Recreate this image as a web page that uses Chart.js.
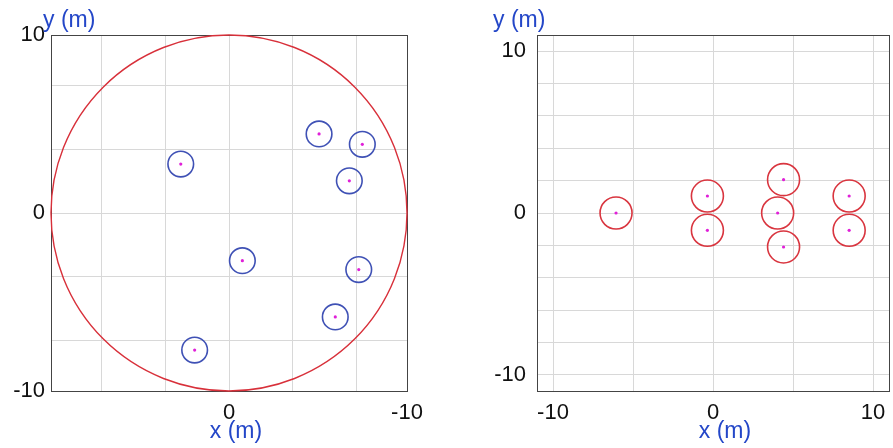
<!DOCTYPE html>
<html>
<head>
<meta charset="utf-8">
<script src="https://cdn.jsdelivr.net/npm/chart.js@4.4.1/dist/chart.umd.min.js"></script>
<style>
  html, body { margin: 0; padding: 0; background: #ffffff; }
  #wrap { position: relative; width: 893px; height: 448px; overflow: hidden; background: #fff; }
  canvas { position: absolute; top: 0; }
  #c1 { left: 0px; }
  #c2 { left: 447px; }
</style>
</head>
<body>
<div id="wrap">
  <canvas id="c1" width="446" height="448"></canvas>
  <canvas id="c2" width="446" height="448"></canvas>
</div>
<script>
// ---------- Data ----------
// Left panel: room boundary circle and small blue sources
const leftBoundaryX = [0];
const leftBoundaryY = [0];
const leftBoundaryRadius = 10;           // m
const leftSourceX = [2.71, -5.06, -7.49, -6.76, -0.75, -7.29, -5.97, 1.93];
const leftSourceY = [2.75, 4.44, 3.86, 1.81, -2.68, -3.18, -5.84, -7.70];
const leftSourceRadius = 0.72;           // m
const leftXTicks = [-10, -7.14, -3.57, 0, 3.57, 7.14, 10];
const leftXTickLabels = ['-10', '', '', '0', '', '', ''];
const leftYTicks = [-10, -7.14, -3.57, 0, 3.57, 7.14, 10];
const leftYTickLabels = ['-10', '', '', '0', '', '', '10'];

// Right panel: red circles
const rightSourceX = [-6.06, -0.35, -0.35, 4.04, 4.41, 4.41, 8.51, 8.51];
const rightSourceY = [0, 1.05, -1.07, 0, 2.06, -2.10, 1.05, -1.07];
const rightSourceRadius = 1.0;           // m
const rightXTicks = [-10, -5, 0, 5, 10];
const rightXTickLabels = ['-10', '', '0', '', '10'];
const rightYTicks = [-10, -8, -6, -4, -2, 0, 2, 4, 6, 8, 10];
const rightYTickLabels = ['-10', '', '', '', '', '0', '', '', '', '', '10'];

const xTitle = 'x (m)';
const yTitle = 'y (m)';

// ---------- Styles ----------
const TICK_FONT = { family: "'Liberation Sans', Arial, sans-serif", size: 22 };
const TITLE_FONT = "23px 'Liberation Sans', Arial, sans-serif";
const TITLE_COLOR = '#2447c8';
const GRID_COLOR = '#d8d8d8';
const FRAME_COLOR = '#444444';

function pts(xs, ys) { return xs.map((x, i) => ({ x: x, y: ys[i] })); }

function radiusFromScale(r) {
  return (ctx) => {
    const s = ctx.chart.scales.x;
    return Math.abs(s.getPixelForValue(r) - s.getPixelForValue(0));
  };
}

const framePlugin = {
  id: 'frame',
  beforeDatasetsDraw(chart) {
    const a = chart.chartArea, c = chart.ctx;
    c.save();
    c.strokeStyle = FRAME_COLOR;
    c.lineWidth = 1;
    c.strokeRect(Math.round(a.left) + 0.5, Math.round(a.top) + 0.5,
                 Math.round(a.right - a.left), Math.round(a.bottom - a.top));
    c.restore();
  }
};

const titlePlugin = {
  id: 'axisTitles',
  afterDraw(chart, args, opts) {
    const a = chart.chartArea, c = chart.ctx;
    c.save();
    c.font = TITLE_FONT;
    c.fillStyle = TITLE_COLOR;
    c.textBaseline = 'alphabetic';
    c.textAlign = 'left';
    c.fillText(yTitle, a.left + opts.yDx, a.top - 8.5);
    c.textAlign = 'center';
    c.fillText(xTitle, (a.left + a.right) / 2 + opts.xDx, chart.height - 10);
    c.restore();
  }
};

function makeScale(min, max, ticks, labels, reverse, padding, fitSize, isX) {
  return {
    type: 'linear',
    min: min, max: max, reverse: reverse,
    afterBuildTicks: (s) => { s.ticks = ticks.map(v => ({ value: v })); },
    afterFit: (s) => {
      if (isX) s.height = fitSize; else s.width = fitSize;
      s.paddingLeft = 0; s.paddingRight = 0; s.paddingTop = 0; s.paddingBottom = 0;
    },
    ticks: {
      autoSkip: false,
      maxRotation: 0,
      padding: padding,
      color: '#111111',
      font: TICK_FONT,
      callback: (v) => { const i = ticks.indexOf(v); return i >= 0 ? labels[i] : ''; }
    },
    grid: { color: GRID_COLOR, lineWidth: 1, drawTicks: false },
    border: { display: false }
  };
}

function makeChart(id, datasets, xs, ys, pad, titleOpts) {
  return new Chart(document.getElementById(id), {
    type: 'scatter',
    data: { datasets: datasets },
    options: {
      responsive: false,
      animation: false,
      events: [],
      layout: { padding: pad },
      plugins: { legend: { display: false }, tooltip: { enabled: false }, axisTitles: titleOpts },
      scales: { x: xs, y: ys }
    },
    plugins: [framePlugin, titlePlugin]
  });
}

// Left chart
makeChart('c1', [
  {
    data: pts(leftBoundaryX, leftBoundaryY),
    pointStyle: 'circle', pointRadius: radiusFromScale(leftBoundaryRadius),
    pointBackgroundColor: 'rgba(0,0,0,0)', pointBorderColor: '#d8303a', pointBorderWidth: 1.4,
    clip: false
  },
  {
    data: pts(leftSourceX, leftSourceY),
    pointStyle: 'circle', pointRadius: radiusFromScale(leftSourceRadius),
    pointBackgroundColor: 'rgba(0,0,0,0)', pointBorderColor: '#3f51b5', pointBorderWidth: 1.6,
    clip: false
  },
  {
    data: pts(leftSourceX, leftSourceY),
    pointStyle: 'circle', pointRadius: 1.6,
    pointBackgroundColor: '#e020d8', pointBorderWidth: 0
  }
],
makeScale(-10, 10, leftXTicks, leftXTickLabels, true, 9, 57, true),
makeScale(-10, 10, leftYTicks, leftYTickLabels, false, 6, 51, false),
{ top: 35, right: 39, bottom: 0, left: 0 },
{ yDx: -8, xDx: 7 });

// Right chart
makeChart('c2', [
  {
    data: pts(rightSourceX, rightSourceY),
    pointStyle: 'circle', pointRadius: radiusFromScale(rightSourceRadius),
    pointBackgroundColor: 'rgba(0,0,0,0)', pointBorderColor: '#d9353f', pointBorderWidth: 1.6,
    clip: false
  },
  {
    data: pts(rightSourceX, rightSourceY),
    pointStyle: 'circle', pointRadius: 1.6,
    pointBackgroundColor: '#e020d8', pointBorderWidth: 0
  }
],
makeScale(-11, 11, rightXTicks, rightXTickLabels, false, 9, 57, true),
makeScale(-11, 11, rightYTicks, rightYTickLabels, false, 11, 90, false),
{ top: 35, right: 1, bottom: 0, left: 0 },
{ yDx: -44, xDx: 12 });
</script>
</body>
</html>
